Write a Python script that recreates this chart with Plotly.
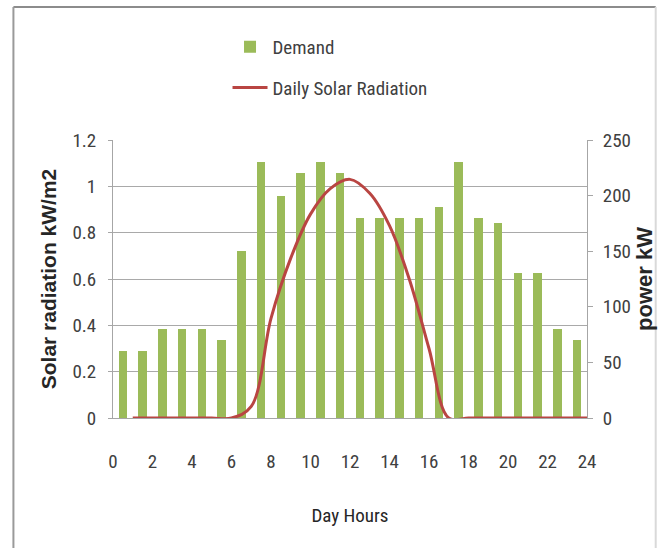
import plotly.graph_objects as go

# Hour of the day (1..24)
hours = list(range(1, 25))

# Hourly power demand, kW
demand_kw = [60, 60, 80, 80, 80, 70, 150, 230, 200, 220, 230, 220,
             180, 180, 180, 180, 190, 230, 180, 175, 130, 130, 80, 70]

# Hourly solar radiation, kW/m2
radiation = [0, 0, 0, 0, 0, 0, 0.05, 0.43, 0.69, 0.88, 0.99, 1.03,
             0.97, 0.83, 0.60, 0.30, 0, 0, 0, 0, 0, 0, 0, 0]

x_ticks = list(range(0, 25, 2))
rad_ticks = [0, 0.2, 0.4, 0.6, 0.8, 1.0, 1.2]
rad_labels = ["0", "0.2", "0.4", "0.6", "0.8", "1", "1.2"]
power_ticks = [0, 50, 100, 150, 200, 250]

RAD_MAX, POWER_MAX = 1.2, 250

GREEN = "#9BBB59"
RED = "#B94542"
NARROW = "Liberation Sans Narrow, Arial Narrow, Roboto Condensed, Liberation Sans, sans-serif"
BOLD = "Liberation Sans, Arial, sans-serif"
TICK_COLOR = "#404040"
GRID = "#A9A9A9"
AXIS = "#A6A6A6"

fig = go.Figure()

# Demand bars sit in the middle of each hour slot (right-hand power axis)
fig.add_trace(go.Bar(
    x=hours, y=demand_kw, name="Demand",
    marker=dict(color=GREEN, line=dict(width=0)),
    width=0.44, offset=-0.72,
    yaxis="y", legendgroup="demand",
))

# Smoothed radiation curve (left-hand radiation axis, drawn over the bars)
fig.add_trace(go.Scatter(
    x=hours, y=radiation, name="Daily Solar Radiation",
    mode="lines", line=dict(color=RED, width=3, shape="spline", smoothing=1.0),
    yaxis="y2", legendgroup="solar",
))

W, H = 664, 548
L, R, T, B = 113, 75, 140, 130
pw, ph = W - L - R, H - T - B


def px_x(p):
    return (p - L) / pw


def px_y(p):
    return (H - B - p) / ph


# horizontal gridlines follow the radiation ticks, expressed on the power scale
grid_vals = [v * POWER_MAX / RAD_MAX for v in rad_ticks]

fig.update_layout(
    width=W, height=H,
    margin=dict(l=L, r=R, t=T, b=B),
    paper_bgcolor="white", plot_bgcolor="white",
    font=dict(family=NARROW, size=19, color=TICK_COLOR),
    showlegend=True,
    legend=dict(
        x=px_x(228), y=px_y(28), xanchor="left", yanchor="top",
        bgcolor="rgba(0,0,0,0)", font=dict(family=NARROW, size=19, color="#404040"),
        traceorder="grouped", tracegroupgap=13, itemwidth=35,
    ),
    bargap=0,
    xaxis=dict(
        range=[0, 24], tickvals=x_ticks, ticktext=[str(v) for v in x_ticks],
        showgrid=False, zeroline=False,
        showline=True, linecolor=AXIS, linewidth=1,
        ticks="", ticklabelstandoff=26,
        tickfont=dict(family=NARROW, size=19, color=TICK_COLOR),
        title=dict(text="Day Hours", standoff=36,
                   font=dict(family=NARROW, size=19, color="#262626")),
    ),
    # power axis (right) carrying the bars and the background grid
    yaxis=dict(
        range=[0, POWER_MAX], tickvals=power_ticks,
        side="right", anchor="x",
        showgrid=False, zeroline=False,
        minor=dict(tickvals=grid_vals, showgrid=True, gridcolor=GRID,
                   gridwidth=1, ticks=""),
        showline=True, linecolor=AXIS, linewidth=1,
        ticks="outside", ticklen=5, tickcolor=AXIS,
        ticklabelstandoff=6,
        tickfont=dict(family=NARROW, size=19, color=TICK_COLOR),
        title=dict(text="power kW", standoff=6,
                   font=dict(family=BOLD, size=22, color="#262626", weight="bold")),
    ),
    # radiation axis (left)
    yaxis2=dict(
        range=[0, RAD_MAX], tickvals=rad_ticks, ticktext=rad_labels,
        overlaying="y", side="left", anchor="x",
        showgrid=False, zeroline=False,
        showline=True, linecolor=AXIS, linewidth=1,
        ticks="outside", ticklen=4, tickcolor=AXIS,
        ticklabelstandoff=8,
        tickfont=dict(family=NARROW, size=19, color=TICK_COLOR),
        title=dict(text="Solar radiation kW/m2", standoff=10,
                   font=dict(family=BOLD, size=21, color="#262626", weight="bold")),
    ),
    shapes=[
        # chart-area frame: top, left and right edges
        dict(type="line", xref="paper", yref="paper",
             x0=px_x(13), x1=px_x(658), y0=px_y(7), y1=px_y(7),
             line=dict(color="#8C8C8C", width=2)),
        dict(type="line", xref="paper", yref="paper",
             x0=px_x(13), x1=px_x(13), y0=px_y(7), y1=px_y(560),
             line=dict(color="#9A9A9A", width=2)),
        dict(type="line", xref="paper", yref="paper",
             x0=px_x(658), x1=px_x(658), y0=px_y(7), y1=px_y(560),
             line=dict(color="#D9D9D9", width=2)),
    ],
)

fig.write_html("out.html")
